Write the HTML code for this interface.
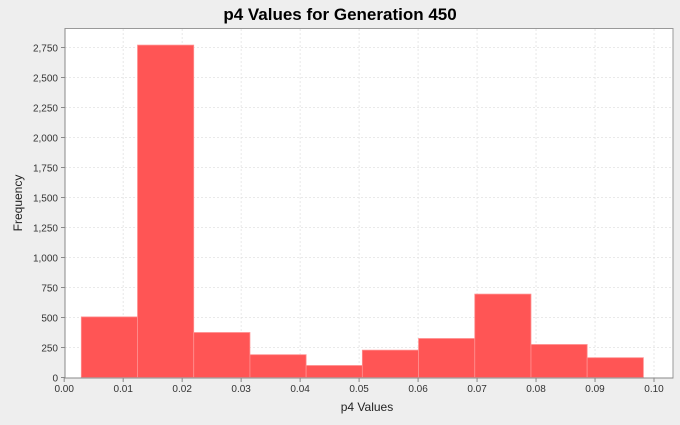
<!DOCTYPE html>
<html><head><meta charset="utf-8"><style>
body{margin:0;background:#eeeeee;font-family:"Liberation Sans",sans-serif;}
svg text{font-family:"Liberation Sans",sans-serif;}
</style></head><body>
<svg width="680" height="420" id="c">
<rect width="680" height="420" fill="#eeeeee"/>
<text x="340" y="20" text-anchor="middle" font-size="17" font-weight="bold" fill="#000">p4 Values for Generation 450</text>
<rect x="65" y="28.5" width="608" height="349.5" fill="#fff" stroke="#999"/>
<g id="grid"></g><g id="bars"></g><g id="axes"></g>
<text x="367" y="411" text-anchor="middle" font-size="12" fill="#222">p4 Values</text>
<text transform="translate(22,203) rotate(-90)" text-anchor="middle" font-size="12" fill="#222">Frequency</text>
</svg>
<script>
const binStart = 0.0029;
const binWidth = 0.00953;
const counts = [505, 2770, 375, 190, 100, 228, 325, 695, 275, 165];
const yTicks = [0,250,500,750,1000,1250,1500,1750,2000,2250,2500,2750];
const xTicks = [0,0.01,0.02,0.03,0.04,0.05,0.06,0.07,0.08,0.09,0.10];
const NS="http://www.w3.org/2000/svg";
const X=v=>64.2+v*5898;
const Y=v=>377.5-v*0.12;
function mk(t,a,p){const e=document.createElementNS(NS,t);for(const k in a)e.setAttribute(k,a[k]);p.appendChild(e);return e;}
const g=document.getElementById('grid'),b=document.getElementById('bars'),ax=document.getElementById('axes');
yTicks.forEach(v=>{if(v>0){const l=mk('line',{x1:65,x2:673,y1:Y(v),y2:Y(v),stroke:'#e2e2e2','stroke-width':'0.8','stroke-dasharray':'2,2'},g);

}
mk('line',{x1:61,x2:65,y1:Y(v),y2:Y(v),stroke:'#888'},ax);
const t=mk('text',{x:58,y:Y(v)+4,'text-anchor':'end','font-size':'10',fill:'#333'},ax);t.textContent=v.toLocaleString('en-US');

});
xTicks.forEach(v=>{if(v>0){const l=mk('line',{x1:X(v),x2:X(v),y1:29,y2:378,stroke:'#e2e2e2','stroke-width':'0.8','stroke-dasharray':'2,2'},g);

}
mk('line',{x1:X(v),x2:X(v),y1:378,y2:382,stroke:'#888'},ax);
const t=mk('text',{x:X(v),y:392,'text-anchor':'middle','font-size':'10',fill:'#333'},ax);t.textContent=v.toFixed(2);

});
counts.forEach((c,i)=>{const x0=X(binStart+i*binWidth),x1=X(binStart+(i+1)*binWidth);
const r=mk('rect',{x:x0,y:Y(c),width:x1-x0,height:Y(0)-Y(c),fill:'#ff5555',stroke:'#ff9090','stroke-width':'0.8'},b);

});
mk('line',{x1:65,x2:673,y1:378,y2:378,stroke:'#888'},ax);
mk('line',{x1:65,x2:65,y1:28.5,y2:378,stroke:'#888'},ax);
</script>
</body></html>
